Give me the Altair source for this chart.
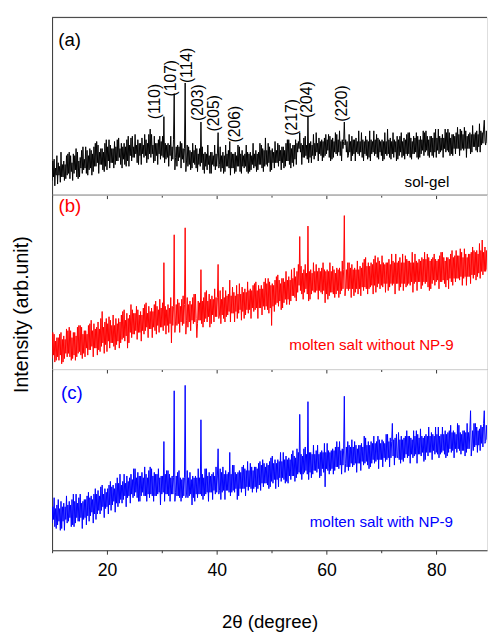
import altair as alt
import pandas as pd

# 2-theta sampling grid of the traces (degrees): 8 readings per degree
X_START = 10.0
X_STEP = 0.125

# (a) sol-gel, relative intensity (0-100 of panel height)
sol_gel = [
    8, 19, 10, 20, 5, 15, 11, 22,     # 10
    6, 18, 11, 16, 7, 24, 10, 17,     # 11
    10, 19, 8, 17, 9, 22, 11, 23,     # 12
    12, 24, 9, 22, 13, 18, 8, 23,     # 13
    12, 22, 14, 26, 10, 24, 9, 19,    # 14
    10, 21, 15, 25, 12, 27, 14, 20,   # 15
    15, 27, 12, 25, 11, 22, 14, 26,   # 16
    15, 25, 11, 23, 13, 27, 16, 29,   # 17
    16, 30, 18, 28, 12, 24, 17, 26,   # 18
    17, 26, 14, 24, 13, 29, 16, 31,   # 19
    14, 27, 19, 31, 15, 28, 18, 26,   # 20
    18, 26, 15, 30, 17, 27, 19, 31,   # 21
    19, 32, 21, 26, 17, 29, 15, 27,   # 22
    20, 29, 17, 27, 16, 31, 19, 33,   # 23
    16, 28, 22, 32, 19, 33, 21, 27,   # 24
    21, 34, 23, 28, 18, 31, 17, 29,   # 25
    22, 29, 17, 32, 23, 28, 21, 34,   # 26
    22, 31, 18, 29, 20, 34, 23, 37,   # 27
    21, 34, 23, 28, 18, 33, 19, 29,   # 28
    22, 29, 17, 31, 23, 33, 20, 30,   # 29
    22, 33, 21, 44, 18, 29, 20, 28,   # 30
    21, 29, 16, 28, 22, 33, 19, 27,   # 31
    20, 31, 57, 14, 21, 27, 16, 28,   # 32
    19, 27, 21, 30, 15, 29, 20, 26,   # 33
    18, 26, 63, 13, 19, 28, 16, 27,   # 34
    17, 25, 14, 24, 15, 29, 18, 25,   # 35
    17, 28, 15, 26, 13, 23, 17, 26,   # 36
    16, 41, 18, 27, 14, 23, 12, 24,   # 37
    16, 23, 14, 28, 17, 22, 12, 24,   # 38
    12, 24, 17, 22, 16, 28, 14, 23,   # 39
    16, 23, 35, 15, 17, 27, 13, 22,   # 40
    15, 24, 12, 22, 13, 28, 16, 23,   # 41
    16, 25, 15, 30, 11, 24, 15, 23,   # 42
    15, 23, 12, 24, 13, 22, 16, 28,   # 43
    16, 27, 13, 23, 12, 25, 16, 22,   # 44
    15, 23, 16, 28, 13, 24, 12, 23,   # 45
    13, 24, 14, 22, 17, 29, 15, 23,   # 46
    16, 25, 13, 23, 14, 24, 17, 29,   # 47
    17, 28, 15, 26, 13, 25, 16, 32,   # 48
    17, 25, 16, 29, 18, 27, 13, 25,   # 49
    14, 26, 18, 24, 15, 30, 18, 25,   # 50
    18, 29, 16, 28, 19, 25, 14, 27,   # 51
    18, 27, 15, 25, 16, 29, 19, 31,   # 52
    19, 31, 17, 29, 15, 26, 18, 28,   # 53
    16, 28, 20, 31, 17, 29, 24, 30,   # 54
    26, 35, 24, 29, 17, 28, 21, 32,   # 55
    21, 33, 22, 28, 20, 44, 18, 29,   # 56
    21, 30, 18, 28, 22, 34, 20, 29,   # 57
    22, 35, 24, 29, 19, 32, 23, 30,   # 58
    22, 31, 19, 30, 21, 32, 22, 34,   # 59
    23, 31, 25, 34, 21, 33, 19, 31,   # 60
    20, 32, 21, 30, 24, 35, 23, 34,   # 61
    22, 31, 24, 36, 22, 30, 19, 31,   # 62
    26, 30, 41, 28, 31, 24, 30, 21,   # 63
    22, 34, 24, 30, 19, 33, 22, 31,   # 64
    23, 31, 19, 32, 24, 30, 23, 36,   # 65
    22, 30, 24, 35, 21, 31, 19, 30,   # 66
    23, 33, 22, 31, 20, 30, 21, 36,   # 67
    19, 31, 23, 30, 24, 36, 22, 31,   # 68
    23, 34, 21, 32, 20, 31, 24, 30,   # 69
    22, 31, 19, 30, 20, 35, 23, 30,   # 70
    22, 37, 23, 31, 21, 32, 20, 30,   # 71
    23, 35, 21, 31, 24, 30, 19, 33,   # 72
    20, 31, 22, 33, 24, 35, 21, 30,   # 73
    22, 32, 20, 31, 23, 34, 22, 35,   # 74
    23, 35, 21, 32, 20, 30, 23, 33,   # 75
    23, 32, 24, 35, 21, 33, 20, 31,   # 76
    21, 33, 23, 31, 25, 36, 22, 35,   # 77
    24, 36, 25, 33, 22, 31, 21, 33,   # 78
    24, 33, 22, 32, 21, 35, 24, 37,   # 79
    21, 32, 25, 37, 23, 33, 24, 32,   # 80
    25, 34, 21, 32, 26, 37, 24, 35,   # 81
    25, 37, 24, 35, 22, 32, 23, 34,   # 82
    22, 34, 26, 33, 23, 35, 26, 38,   # 83
    26, 34, 22, 37, 25, 36, 26, 34,   # 84
    25, 38, 26, 36, 21, 33, 26, 34,   # 85
    26, 35, 23, 34, 24, 39, 27, 34,   # 86
    27, 35, 25, 36, 24, 34, 27, 40,   # 87
    24, 36, 28, 35, 29, 37, 42, 30,   # 88
    28, 36, 29,                       # 89
]

# (b) molten salt without NP-9
without_np9 = [
    6, 21, 8, 20, 4, 16, 5, 18,       # 10
    7, 18, 5, 20, 8, 21, 3, 17,       # 11
    4, 19, 6, 17, 9, 23, 7, 22,       # 12
    9, 24, 7, 22, 5, 18, 6, 21,       # 13
    8, 21, 5, 19, 7, 24, 9, 25,       # 14
    10, 25, 8, 24, 6, 20, 9, 22,      # 15
    7, 22, 12, 20, 8, 25, 11, 26,     # 16
    11, 28, 13, 22, 7, 26, 12, 23,    # 17
    12, 24, 8, 27, 11, 23, 10, 29,    # 18
    13, 33, 15, 24, 9, 27, 14, 29,    # 19
    10, 26, 16, 30, 12, 28, 15, 25,   # 20
    15, 31, 13, 25, 11, 29, 14, 26,   # 21
    16, 29, 12, 27, 15, 31, 17, 33,   # 22
    18, 34, 16, 28, 19, 32, 12, 29,   # 23
    15, 31, 21, 37, 18, 34, 20, 32,   # 24
    20, 32, 22, 36, 17, 34, 21, 31,   # 25
    21, 33, 16, 31, 22, 35, 20, 37,   # 26
    22, 38, 24, 32, 18, 36, 23, 33,   # 27
    23, 35, 18, 33, 24, 37, 22, 39,   # 28
    20, 36, 25, 34, 21, 40, 24, 35,   # 29
    24, 38, 22, 61, 25, 36, 20, 34,   # 30
    25, 37, 21, 35, 26, 41, 15, 36,   # 31
    25, 36, 77, 21, 27, 37, 25, 40,   # 32
    26, 38, 21, 36, 27, 40, 25, 42,   # 33
    26, 37, 81, 20, 28, 41, 24, 37,   # 34
    27, 39, 22, 37, 28, 41, 26, 43,   # 35
    27, 43, 29, 18, 26, 39, 28, 38,   # 36
    28, 57, 26, 39, 24, 41, 27, 44,   # 37
    29, 45, 27, 39, 30, 43, 24, 40,   # 38
    26, 42, 31, 40, 27, 46, 30, 41,   # 39
    30, 41, 60, 29, 31, 45, 26, 40,   # 40
    31, 47, 29, 41, 27, 45, 30, 42,   # 41
    31, 43, 33, 51, 27, 42, 32, 47,   # 42
    32, 44, 27, 42, 33, 48, 29, 43,   # 43
    32, 49, 34, 43, 28, 47, 33, 44,   # 44
    29, 46, 31, 44, 34, 50, 32, 45,   # 45
    34, 46, 29, 45, 35, 48, 33, 49,   # 46
    34, 50, 35, 45, 29, 48, 35, 46,   # 47
    35, 48, 31, 46, 36, 50, 34, 52,   # 48
    36, 49, 34, 52, 32, 50, 35, 48,   # 49
    25, 49, 36, 48, 33, 51, 37, 53,   # 50
    38, 54, 36, 51, 39, 49, 34, 52,   # 51
    35, 52, 38, 50, 40, 56, 37, 51,   # 52
    40, 53, 37, 51, 39, 57, 42, 52,   # 53
    42, 58, 41, 53, 39, 56, 44, 60,   # 54
    48, 76, 45, 59, 43, 55, 40, 57,   # 55
    44, 60, 46, 55, 43, 82, 39, 56,   # 56
    40, 57, 43, 55, 45, 61, 44, 56,   # 57
    44, 60, 45, 56, 40, 58, 45, 56,   # 58
    44, 58, 43, 61, 45, 57, 38, 56,   # 59
    43, 57, 40, 56, 42, 61, 44, 56,   # 60
    44, 59, 43, 57, 41, 55, 43, 58,   # 61
    45, 57, 41, 58, 43, 56, 45, 62,   # 62
    46, 57, 88, 42, 47, 57, 46, 61,   # 63
    45, 61, 46, 58, 41, 60, 46, 57,   # 64
    42, 58, 44, 57, 46, 62, 43, 57,   # 65
    46, 59, 42, 58, 47, 61, 45, 63,   # 66
    47, 64, 46, 59, 43, 61, 46, 59,   # 67
    47, 61, 48, 60, 43, 63, 48, 65,   # 68
    44, 61, 47, 64, 49, 62, 46, 60,   # 69
    48, 65, 47, 61, 49, 60, 44, 61,   # 70
    49, 61, 45, 63, 47, 60, 49, 66,   # 71
    48, 62, 49, 61, 43, 66, 49, 61,   # 72
    49, 62, 45, 64, 47, 61, 49, 66,   # 73
    45, 61, 49, 65, 47, 63, 48, 62,   # 74
    49, 62, 48, 61, 50, 67, 44, 61,   # 75
    49, 66, 50, 62, 45, 61, 50, 63,   # 76
    50, 62, 46, 64, 48, 63, 50, 67,   # 77
    49, 63, 50, 66, 47, 64, 45, 62,   # 78
    46, 63, 49, 64, 51, 66, 48, 63,   # 79
    50, 62, 51, 63, 46, 65, 50, 67,   # 80
    50, 67, 51, 64, 49, 62, 47, 64,   # 81
    51, 64, 46, 63, 52, 66, 50, 68,   # 82
    48, 64, 52, 65, 50, 68, 52, 65,   # 83
    52, 65, 51, 69, 53, 67, 48, 64,   # 84
    52, 69, 53, 66, 48, 64, 53, 66,   # 85
    53, 66, 49, 67, 54, 70, 52, 68,   # 86
    54, 67, 51, 68, 53, 66, 55, 72,   # 87
    52, 68, 56, 74, 54, 67, 56, 70,   # 88
    56, 68, 57,                       # 89
]

# (c) molten salt with NP-9
with_np9 = [
    15, 24, 17, 29, 13, 23, 12, 25,   # 10
    14, 28, 16, 23, 11, 27, 12, 24,   # 11
    16, 26, 11, 24, 17, 30, 15, 25,   # 12
    16, 27, 18, 25, 13, 28, 14, 31,   # 13
    13, 27, 15, 31, 18, 26, 16, 29,   # 14
    16, 31, 18, 26, 12, 27, 17, 28,   # 15
    18, 28, 14, 30, 19, 32, 16, 29,   # 16
    19, 30, 21, 28, 15, 31, 20, 34,   # 17
    17, 31, 20, 33, 22, 30, 20, 35,   # 18
    22, 36, 24, 31, 18, 34, 23, 32,   # 19
    24, 34, 20, 36, 25, 38, 22, 35,   # 20
    25, 36, 27, 34, 21, 37, 26, 40,   # 21
    24, 37, 26, 42, 28, 36, 26, 38,   # 22
    28, 42, 30, 37, 24, 41, 29, 38,   # 23
    30, 40, 26, 42, 31, 39, 29, 45,   # 24
    30, 45, 32, 40, 29, 43, 27, 41,   # 25
    27, 41, 30, 43, 32, 40, 30, 46,   # 26
    30, 42, 27, 40, 31, 44, 29, 46,   # 27
    31, 45, 30, 41, 27, 43, 30, 42,   # 28
    30, 42, 31, 45, 32, 40, 25, 41,   # 29
    31, 41, 32, 60, 27, 42, 31, 44,   # 30
    31, 44, 30, 42, 27, 40, 31, 41,   # 31
    31, 40, 88, 27, 32, 41, 30, 43,   # 32
    30, 44, 29, 40, 27, 39, 29, 40,   # 33
    30, 40, 91, 29, 31, 44, 29, 40,   # 34
    30, 43, 31, 39, 25, 41, 29, 40,   # 35
    27, 41, 31, 40, 29, 45, 31, 40,   # 36
    31, 72, 30, 42, 28, 40, 30, 45,   # 37
    31, 45, 32, 41, 27, 43, 32, 41,   # 38
    32, 42, 28, 43, 33, 41, 31, 46,   # 39
    32, 41, 56, 31, 33, 45, 28, 43,   # 40
    32, 46, 33, 42, 28, 44, 33, 42,   # 41
    33, 43, 32, 54, 30, 42, 32, 47,   # 42
    33, 47, 32, 43, 34, 42, 28, 43,   # 43
    30, 44, 34, 43, 32, 46, 34, 47,   # 44
    34, 45, 30, 44, 35, 49, 33, 44,   # 45
    35, 48, 34, 46, 32, 44, 34, 46,   # 46
    35, 46, 32, 45, 34, 48, 36, 49,   # 47
    33, 47, 37, 50, 35, 48, 37, 46,   # 48
    37, 48, 36, 47, 34, 49, 35, 51,   # 49
    38, 52, 37, 48, 39, 50, 34, 48,   # 50
    39, 50, 35, 49, 40, 54, 38, 49,   # 51
    40, 54, 39, 50, 37, 52, 38, 50,   # 52
    37, 51, 41, 50, 39, 53, 41, 55,   # 53
    41, 52, 38, 51, 40, 56, 42, 54,   # 54
    43, 75, 42, 53, 39, 52, 42, 56,   # 55
    43, 57, 44, 53, 42, 82, 39, 54,   # 56
    43, 54, 40, 53, 42, 58, 44, 53,   # 57
    44, 55, 43, 58, 45, 53, 40, 54,   # 58
    41, 55, 45, 54, 43, 59, 35, 54,   # 59
    45, 59, 44, 55, 42, 54, 44, 55,   # 60
    45, 56, 42, 55, 44, 57, 46, 60,   # 61
    46, 57, 45, 60, 47, 55, 42, 56,   # 62
    47, 56, 85, 43, 48, 57, 46, 60,   # 63
    44, 58, 46, 57, 48, 61, 46, 57,   # 64
    47, 60, 48, 58, 43, 56, 48, 58,   # 65
    48, 58, 44, 59, 49, 57, 47, 63,   # 66
    48, 62, 49, 58, 47, 60, 45, 58,   # 67
    46, 60, 48, 59, 50, 63, 48, 59,   # 68
    49, 60, 50, 63, 45, 61, 50, 59,   # 69
    50, 61, 46, 60, 51, 59, 49, 64,   # 70
    50, 64, 51, 60, 46, 62, 51, 60,   # 71
    70, 52, 61, 47, 62, 51, 64, 52,   # 72
    51, 65, 50, 61, 48, 63, 50, 61,   # 73
    49, 62, 51, 63, 53, 66, 51, 63,   # 74
    52, 63, 48, 62, 53, 61, 51, 66,   # 75
    52, 63, 53, 66, 48, 64, 53, 62,   # 76
    53, 67, 52, 63, 54, 62, 49, 63,   # 77
    50, 64, 54, 63, 52, 68, 54, 63,   # 78
    54, 65, 50, 64, 55, 63, 53, 68,   # 79
    54, 64, 53, 68, 51, 63, 53, 64,   # 80
    54, 68, 55, 64, 53, 66, 51, 64,   # 81
    52, 65, 54, 66, 56, 69, 54, 65,   # 82
    55, 66, 51, 65, 56, 64, 54, 70,   # 83
    56, 69, 55, 65, 53, 64, 55, 66,   # 84
    55, 66, 52, 65, 54, 70, 56, 65,   # 85
    56, 66, 77, 52, 57, 66, 55, 70,   # 86
    57, 70, 58, 68, 54, 66, 58, 67,   # 87
    55, 69, 59, 68, 57, 70, 77, 59,   # 88
    60, 69, 61,                       # 89
]

# Miller index annotations of panel (a): label, 2theta, label height
hkl_labels = ["(110)", "(107)", "(114)", "(203)", "(205)", "(206)", "(217)", "(204)", "(220)"]
hkl_x = [28.7, 31.7, 34.6, 36.55, 39.6, 43.3, 53.7, 56.55, 62.8]
hkl_y = [52.5, 65.7, 72.9, 51.9, 45.9, 39.8, 43.6, 53.6, 51.4]

panel_tags = ["(a)", "(b)", "(c)"]
tag_x = [13.2, 13.25, 13.6]
tag_y = [87.0, 93.3, 86.5]

sample_names = ["sol-gel", "molten salt without NP-9", "molten salt with NP-9"]
name_x = [78.3, 68.2, 70.0]
name_y = [7.2, 13.5, 15.7]

colors = ["#000000", "#FF0000", "#0000FF"]
heights = [181, 178, 185]

X_DOMAIN = [10, 89.25]
TICKS = [10, 20, 30, 40, 50, 60, 70, 80]
W = 444
AX = "#333333"
FONT = "Liberation Sans"
TICK_SIZE = {"condition": {"test": "datum.value % 20 == 0", "value": 4}, "value": 2.5}


def make_panel(i, values, bottom, ytitle):
    df = pd.DataFrame({
        "x": [X_START + k * X_STEP for k in range(len(values))],
        "y": values,
    })
    if bottom:
        xaxis = alt.Axis(values=TICKS, grid=False, domainColor=AX, tickColor=AX,
                         tickSize=TICK_SIZE, labelExpr="datum.value % 20 == 0 ? datum.label : ''",
                         labelFontSize=18, labelColor="#000000", labelPadding=8,
                         title="2θ (degree)", titleFontSize=19, titleFontWeight="normal",
                         titleColor="#000000", titlePadding=34)
    else:
        xaxis = alt.Axis(values=TICKS, grid=False, domainColor=AX, tickColor=AX,
                         tickSize=TICK_SIZE, labels=False, title=None)
    if ytitle:
        yaxis = alt.Axis(labels=False, ticks=False, grid=False, domainColor=AX,
                         title="Intensity (arb.unit)", titleFontSize=20, titleFontWeight="normal",
                         titleColor="#000000", titleAngle=270, titleAlign="center",
                         titleBaseline="middle", titleX=-31, titleY=122)
    else:
        yaxis = alt.Axis(labels=False, ticks=False, grid=False, domainColor=AX, title=None)

    xenc = alt.X("x:Q", scale=alt.Scale(domain=X_DOMAIN, nice=False, zero=False), axis=xaxis)
    yenc = alt.Y("y:Q", scale=alt.Scale(domain=[0, 100], nice=False, zero=False), axis=yaxis)

    line = alt.Chart(df).mark_line(color=colors[i], strokeWidth=1, clip=True).encode(x=xenc, y=yenc)

    tag = alt.Chart(pd.DataFrame({"x": [tag_x[i]], "y": [tag_y[i]], "t": [panel_tags[i]]})).mark_text(
        fontSize=19, color=colors[i], align="center", baseline="middle").encode(x=xenc, y=yenc, text="t:N")

    name = alt.Chart(pd.DataFrame({"x": [name_x[i]], "y": [name_y[i]], "t": [sample_names[i]]})).mark_text(
        fontSize=15.5, color=colors[i], align="center", baseline="middle").encode(x=xenc, y=yenc, text="t:N")

    layers = [line, tag, name]
    if i == 0:
        hkl = alt.Chart(pd.DataFrame({"x": hkl_x, "y": hkl_y, "t": hkl_labels})).mark_text(
            fontSize=16, color="#000000", angle=270, align="center", baseline="middle"
        ).encode(x=xenc, y=yenc, text="t:N")
        top = alt.Chart(pd.DataFrame({"k": [0]})).mark_rule(color=AX, strokeWidth=1).encode(
            x=alt.value(0), x2=alt.value(W), y=alt.value(0))
        layers += [hkl, top]
    return alt.layer(*layers).properties(width=W, height=heights[i])


pa = make_panel(0, sol_gel, False, False)
pb = make_panel(1, without_np9, False, True)
pc = make_panel(2, with_np9, True, False)

chart = alt.vconcat(pa, pb, pc, spacing=0, bounds="flush").properties(
    padding={"left": 3, "top": 2, "right": 0, "bottom": 0}
).configure_view(stroke=None).configure(font=FONT)

chart.save("out.html", embed_options={"renderer": "svg", "actions": False})
